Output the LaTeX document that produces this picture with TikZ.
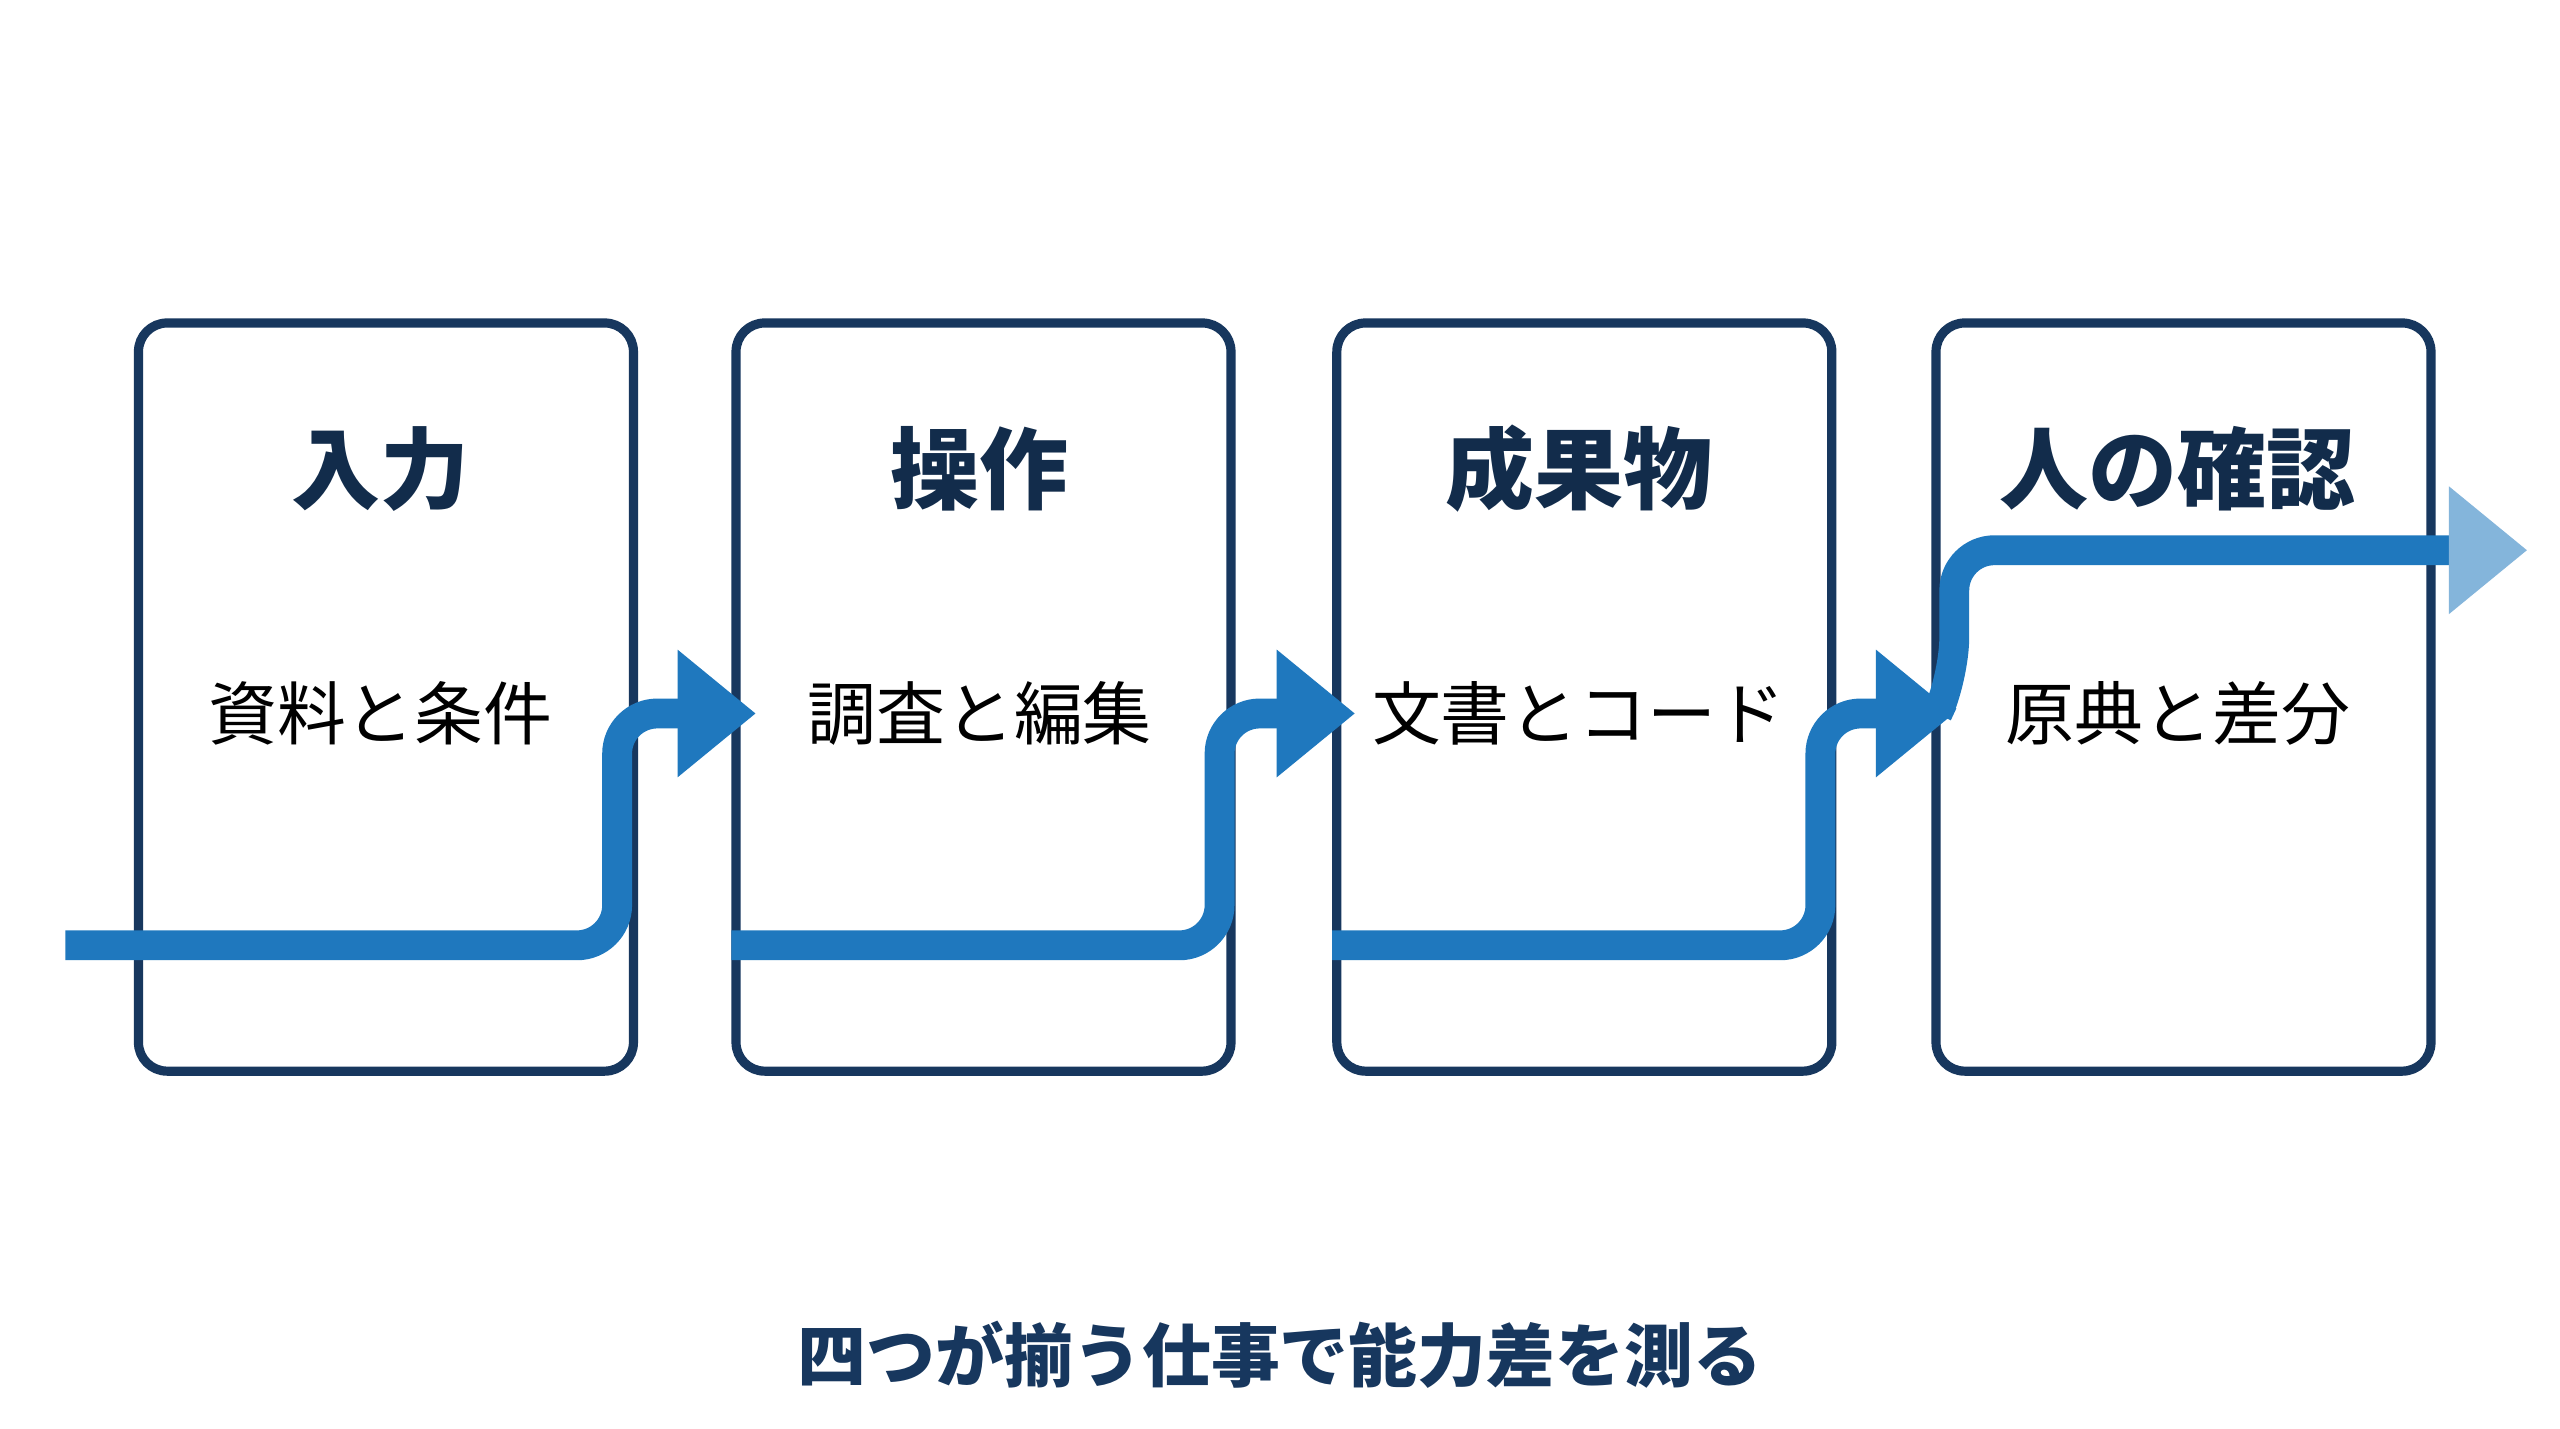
\documentclass[tikz,border=0pt]{standalone}
\usepackage{fontspec}
\setmainfont{Noto Sans CJK JP}
\usetikzlibrary{arrows.meta}
\definecolor{navy}{HTML}{17375E}
\definecolor{flow}{HTML}{1F78BE}
\begin{document}
\begin{tikzpicture}[x=0.01cm,y=-0.01cm,
    stage/.style={draw=navy, line width=1.6pt, rounded corners=5pt,
        minimum width=3.03cm, minimum height=4.58cm, anchor=north west},
    head/.style={font=\bfseries\fontsize{15.5}{18}\selectfont, text=navy!80!black},
    body/.style={font=\fontsize{12}{14}\selectfont, text=black},
    path/.style={flow, line width=5.2pt, rounded corners=7pt,
        -{Triangle[length=0.48cm,width=0.75cm]}}
]
    \useasboundingbox (0,0) rectangle (1568,875);
    \fill[white] (0,0) rectangle (1568,875);
    \node[stage] (s1) at (82,195) {};
    \node[stage] (s2) at (448,195) {};
    \node[stage] (s3) at (816,195) {};
    \node[stage] (s4) at (1183,195) {};
    \node[head] (h1) at (233,287) {入力};
    \node[head] (h2) at (600,287) {操作};
    \node[head] (h3) at (967,287) {成果物};
    \node[head] (h4) at (1334,287) {人の確認};
    \node[body] (b1) at (233,437) {資料と条件};
    \node[body] (b2) at (600,437) {調査と編集};
    \node[body] (b3) at (967,437) {文書とコード};
    \node[body] (b4) at (1334,437) {原典と差分};
    \coordinate (p1) at (40,579);
    \coordinate (p2) at (448,579);
    \coordinate (p3) at (816,579);
    \coordinate (p4) at (1190,430);
    \coordinate (t1) at (463,437);
    \coordinate (t2) at (830,437);
    \coordinate (t3) at (1197,437);
    \coordinate (t4) at (1548,337);
    \draw[path] (p1) -| (378,437) -- (t1);
    \draw[path] (p2) -| (747,437) -- (t2);
    \draw[path] (p3) -| (1115,437) -- (t3);
    \draw[path, -{Triangle[length=0.48cm,width=0.75cm,color=flow!55]}] (p4) -- (1197,415) |- (t4);
    \node[font=\bfseries\fontsize{12}{14}\selectfont, text=navy] (cap) at (784,830) {四つが揃う仕事で能力差を測る};
\end{tikzpicture}
\end{document}
